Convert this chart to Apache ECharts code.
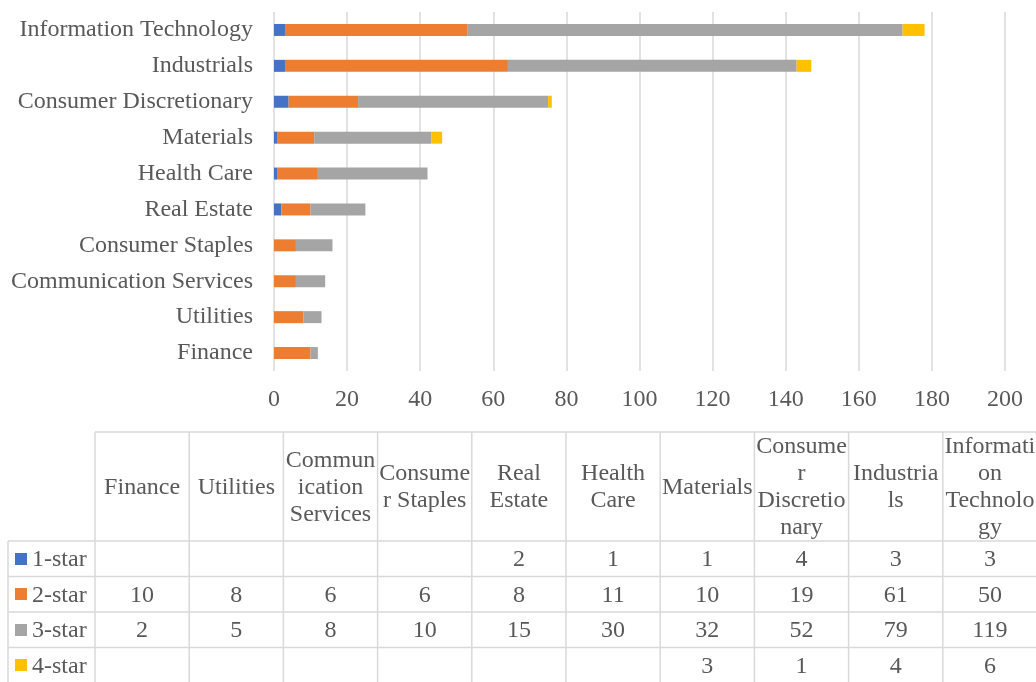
<!DOCTYPE html>
<html>
<head>
<meta charset="utf-8">
<script src="https://cdn.jsdelivr.net/npm/echarts@6/dist/echarts.min.js"></script>
<style>
html,body{margin:0;padding:0;background:#ffffff;}
#chart{width:1036px;height:682px;}
</style>
</head>
<body>
<div id="chart"></div>
<script>
// ---- data ----
const categories = ['Finance', 'Utilities', 'Communication Services', 'Consumer Staples', 'Real Estate',
  'Health Care', 'Materials', 'Consumer Discretionary', 'Industrials', 'Information Technology'];
// header labels of the data table, wrapped as in the original
const tableHeaderLabels = ['Finance', 'Utilities', 'Commun\nication\nServices', 'Consume\nr Staples', 'Real\nEstate',
  'Health\nCare', 'Materials', 'Consume\nr\nDiscretio\nnary', 'Industria\nls', 'Informati\non\nTechnolo\ngy'];
const seriesNames = ['1-star', '2-star', '3-star', '4-star'];
const star1 = [null, null, null, null, 2, 1, 1, 4, 3, 3];
const star2 = [10, 8, 6, 6, 8, 11, 10, 19, 61, 50];
const star3 = [2, 5, 8, 10, 15, 30, 32, 52, 79, 119];
const star4 = [null, null, null, null, null, null, 3, 1, 4, 6];
const xTickMin = 0, xTickMax = 200, xTickStep = 20;

// ---- styles ----
const seriesColors = ['#4472C4', '#ED7D31', '#A5A5A5', '#FFC000'];
const textColor = '#595959';
const lineColor = '#d9d9d9';
const fontFamily = '"Liberation Serif", "Times New Roman", serif';
const fontSize = 24;

const seriesData = [star1, star2, star3, star4];

// ---- data table (drawn with graphic elements) ----
const tbl = { left: 8, colX0: 95, colW: 94.2, top: 432, headBottom: 541, rowH: 35.5, bottom: 690 };
const tableRight = tbl.colX0 + tbl.colW * categories.length;
const g = [];
function line(x1, y1, x2, y2) {
  g.push({ type: 'line', silent: true, shape: { x1, y1, x2, y2 },
    style: { stroke: lineColor, lineWidth: 1.5 } });
}
function txt(text, x, y, align) {
  g.push({ type: 'text', silent: true, x: x, y: y,
    style: { text: text, fill: textColor, fontSize: fontSize, fontFamily: fontFamily,
      align: align || 'center', verticalAlign: 'middle', lineHeight: 27 } });
}
// horizontal lines
line(tbl.colX0, tbl.top, tableRight, tbl.top);
for (let r = 0; r <= seriesNames.length; r++) {
  const y = tbl.headBottom + r * tbl.rowH;
  line(tbl.left, y, tableRight, y);
}
// vertical lines
line(tbl.left, tbl.headBottom, tbl.left, tbl.bottom);
for (let c = 0; c <= categories.length; c++) {
  const x = tbl.colX0 + c * tbl.colW;
  line(x, tbl.top, x, tbl.bottom);
}
// header
tableHeaderLabels.forEach((lab, c) => {
  txt(lab, tbl.colX0 + (c + 0.5) * tbl.colW, (tbl.top + tbl.headBottom) / 2 + 1);
});
// rows
seriesNames.forEach((name, r) => {
  const cy = tbl.headBottom + (r + 0.5) * tbl.rowH;
  g.push({ type: 'rect', silent: true, shape: { x: 15, y: Math.round(cy) - 6, width: 12, height: 12 },
    style: { fill: seriesColors[r] } });
  txt(name, 32, cy + 1, 'left');
  seriesData[r].forEach((v, c) => {
    if (v !== null && v !== undefined) txt(String(v), tbl.colX0 + (c + 0.5) * tbl.colW, cy + 1);
  });
});

const chart = echarts.init(document.getElementById('chart'), null, { renderer: 'canvas' });
chart.setOption({
  animation: false,
  backgroundColor: '#ffffff',
  grid: { left: 274, right: 31, top: 12, bottom: 311, containLabel: false, outerBoundsMode: 'none' },
  xAxis: {
    type: 'value', min: xTickMin, max: xTickMax, interval: xTickStep,
    axisLine: { show: false }, axisTick: { show: false },
    axisLabel: { color: textColor, fontSize: fontSize, fontFamily: fontFamily, margin: 17 },
    splitLine: { show: true, lineStyle: { color: lineColor, width: 1.5 } }
  },
  yAxis: {
    type: 'category', data: categories,
    axisLine: { show: false }, axisTick: { show: false },
    axisLabel: { color: textColor, fontSize: fontSize, fontFamily: fontFamily, margin: 21, padding: [4, 0, 0, 0] },
    splitLine: { show: false }
  },
  series: seriesNames.map((name, i) => ({
    name: name, type: 'bar', stack: 'total', data: seriesData[i], barWidth: 12,
    itemStyle: { color: seriesColors[i] }
  })),
  graphic: { elements: g }
});
</script>
</body>
</html>
